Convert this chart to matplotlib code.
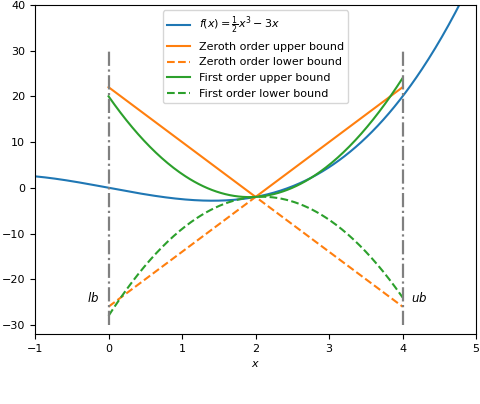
import numpy as np
import matplotlib.pyplot as plt

# function f(x) = 1/2 x^3 - 3x  (coefficients of x^3, x^2, x, 1)
f_coef = [0.5, 0.0, -3.0, 0.0]
lb, ub = 0, 4
x0 = 2

# zeroth order bounds (piecewise linear through x0)
z_x = [0, 2, 4]
z_upper = [22, -2, 22]
z_lower = [-26, -2, -26]

# first order bounds: f0 + g*(x-x0) +/- c*(x-x0)^2
f0, g, c = -2.0, 1.0, 6.0

fig = plt.figure(figsize=(4.8, 4.04), dpi=100)
ax = fig.add_axes([0.073, 0.173, 0.919, 0.815])

xs = np.linspace(-1, 5, 400)
ax.plot(xs, np.polyval(f_coef, xs), color='tab:blue', lw=1.5,
        label=r'$f(x) = \frac{1}{2}x^3 - 3x$')
ax.plot(z_x, z_upper, color='tab:orange', lw=1.5, label='Zeroth order upper bound')
ax.plot(z_x, z_lower, '--', color='tab:orange', lw=1.5, label='Zeroth order lower bound')

xb = np.linspace(lb, ub, 200)
ax.plot(xb, f0 + g * (xb - x0) + c * (xb - x0) ** 2, color='tab:green', lw=1.5,
        label='First order upper bound')
ax.plot(xb, f0 + g * (xb - x0) - c * (xb - x0) ** 2, '--', color='tab:green', lw=1.5,
        label='First order lower bound')

ax.vlines([lb, ub], -30, 30, colors='gray', linestyles='-.', lw=1.6)
ax.text(-0.29, -25, '$lb$', fontsize=8.5)
ax.text(4.12, -25, '$ub$', fontsize=8.5)

ax.set_xlim(-1, 5)
ax.set_ylim(-32, 40)
ax.set_xlabel('$x$', fontsize=8, labelpad=4)
ax.tick_params(labelsize=8)
ax.legend(loc='upper center', fontsize=8)

fig.savefig('out.png', dpi=100)
